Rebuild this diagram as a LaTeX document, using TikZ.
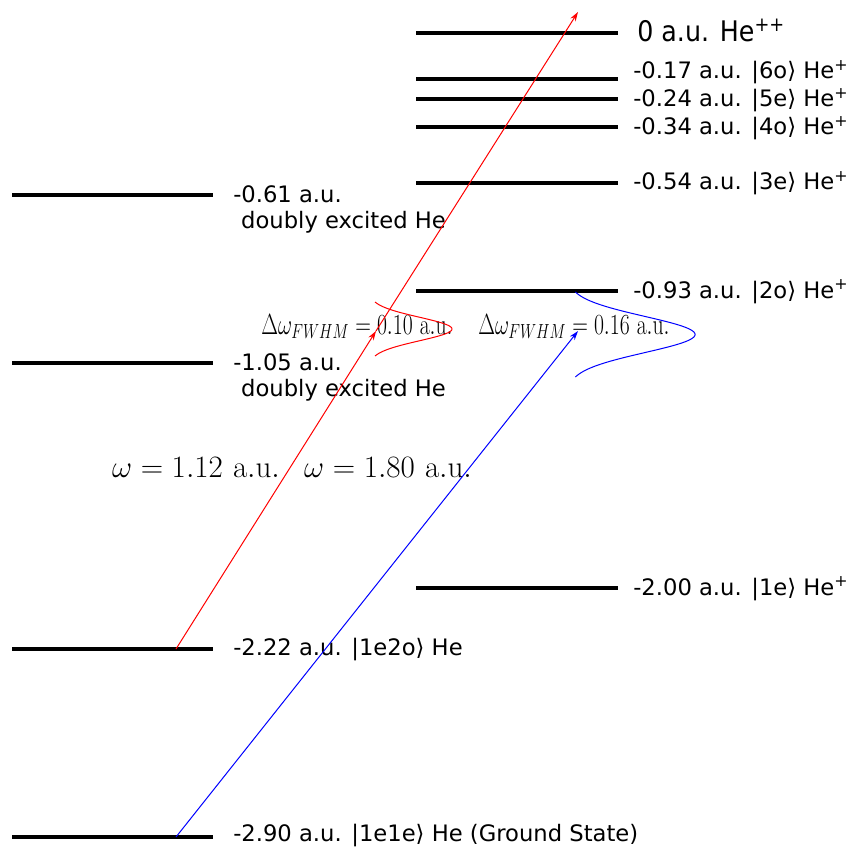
\RequirePackage{fix-cm}
\documentclass[tikz,border=0pt]{standalone}
\usepackage[no-math]{fontspec}
\setmainfont{DejaVu Sans}
\usetikzlibrary{arrows.meta}
\begin{document}
\begin{tikzpicture}[x=0.75pt,y=-0.75pt,
  lvl/.style={line width=2.3pt},
  lab/.style={font=\fontsize{17}{19.5}\selectfont, inner sep=0pt, anchor=base west, align=left},
  biglab/.style={font=\fontsize{19}{23}\selectfont, inner sep=0pt, anchor=base west},
  mlab/.style={font=\fontsize{23.3}{28}\selectfont, inner sep=0pt, anchor=base},
  flab/.style={font=\fontsize{17.5}{21}\selectfont, inner sep=0pt, anchor=base},
  beam/.style={line width=0.75pt, -{Stealth[length=7pt,width=4.5pt]}},
  pulse/.style={line width=0.75pt},
]
\useasboundingbox (0,0) rectangle (848,848);

% left levels (He)
\draw[lvl] (12,195) -- (213,195);
\draw[lvl] (12,363) -- (213,363);
\draw[lvl] (12,649) -- (213,649);
\draw[lvl] (12,837) -- (213,837);
% right levels (He+, He++)
\draw[lvl] (416,33) -- (618,33);
\draw[lvl] (416,79) -- (618,79);
\draw[lvl] (416,99) -- (618,99);
\draw[lvl] (416,127) -- (618,127);
\draw[lvl] (416,183) -- (618,183);
\draw[lvl] (416,291) -- (618,291);
\draw[lvl] (416,588) -- (618,588);

% labels
\node[lab] (l061) at (233,229) {-0.61 a.u.\\\hspace*{0.35em}doubly excited He};
\node[lab] (l105) at (233,396) {-1.05 a.u.\\\hspace*{0.35em}doubly excited He};
\node[lab] (l222) at (233,655) {-2.22 a.u. |1e2o⟩ He};
\node[lab] (l290) at (233,841) {-2.90 a.u. |1e1e⟩ He (Ground State)};
\node[biglab] (l0) at (637,42) {\scalebox{1}[1.12]{0 a.u. He\textsuperscript{++}}};
\node[lab] (l017) at (633,79) {-0.17 a.u. |6o⟩ He\textsuperscript{+}};
\node[lab] (l024) at (633,107) {-0.24 a.u. |5e⟩ He\textsuperscript{+}};
\node[lab] (l034) at (633,135) {-0.34 a.u. |4o⟩ He\textsuperscript{+}};
\node[lab] (l054) at (633,190) {-0.54 a.u. |3e⟩ He\textsuperscript{+}};
\node[lab] (l093) at (633,298) {-0.93 a.u. |2o⟩ He\textsuperscript{+}};
\node[lab] (l200) at (633,595) {-2.00 a.u. |1e⟩ He\textsuperscript{+}};

% photon energies
\node[mlab] (w1) at (196,477) {$\omega = 1.12\ \mathrm{a.u.}$};
\node[mlab] (w2) at (388,477) {$\omega = 1.80\ \mathrm{a.u.}$};
\node[flab] (f1) at (357,334) {\scalebox{0.93}[1.25]{$\Delta\omega_{FWHM} = 0.10\ \mathrm{a.u.}$}};
\node[flab] (f2) at (574,334) {\scalebox{0.93}[1.25]{$\Delta\omega_{FWHM} = 0.16\ \mathrm{a.u.}$}};

% beam endpoints
\coordinate (g) at (176,837);
\coordinate (e1) at (176,649);
\coordinate (rmid) at (376,331);
\coordinate (rtop) at (578,12);
\coordinate (btop) at (578,331);

\draw[beam, blue] (g) -- (btop);
\draw[beam, red] (e1) -- (rmid);
\draw[beam, red] (rmid) -- (rtop);

% spectral profiles
\draw[pulse, red] plot[domain=-27:27, samples=80, smooth]
  ({369+83*exp(-0.5*(\x/11.8)*(\x/11.8))}, {329+\x});
\draw[pulse, blue] plot[domain=-42.5:42.5, samples=100, smooth]
  ({567.3+127.7*exp(-0.5*(\x/18.1)*(\x/18.1))}, {334.5+\x});
\end{tikzpicture}
\end{document}
